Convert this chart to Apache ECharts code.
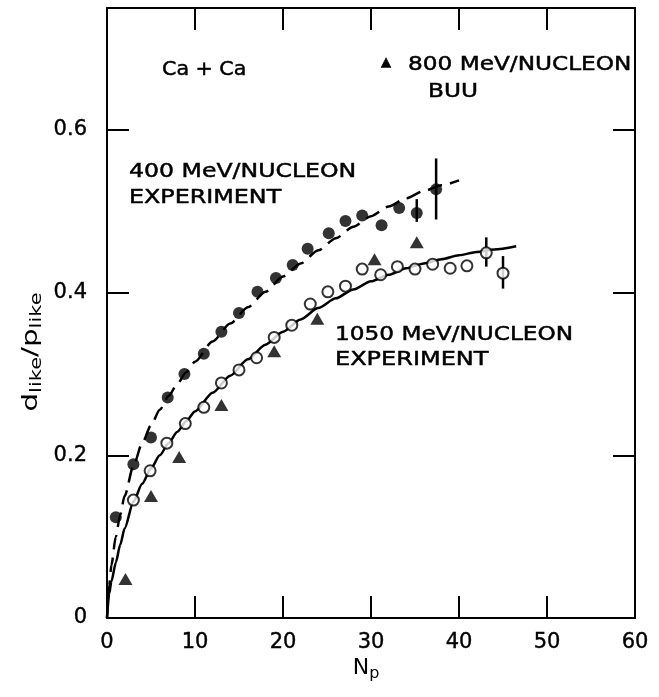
<!DOCTYPE html>
<html>
<head>
<meta charset="utf-8">
<script src="https://cdn.jsdelivr.net/npm/echarts@6/dist/echarts.min.js"></script>
<style>
  html, body { margin: 0; padding: 0; background: #fff; }
  #chart { width: 659px; height: 697px; }
</style>
</head>
<body>
<div id="chart"></div>
<script>
// ---- data ----
// 400 MeV/nucleon experiment (filled circles)
const n400 = [1.0, 3.0, 5.0, 6.9, 8.8, 11.0, 13.0, 15.0, 17.1, 19.2, 21.1, 22.8, 25.2, 27.1, 29.0, 31.2, 33.2, 35.2, 37.4];
const v400 = [0.124, 0.189, 0.222, 0.271, 0.300, 0.325, 0.352, 0.375, 0.401, 0.418, 0.434, 0.454, 0.473, 0.488, 0.495, 0.483, 0.504, 0.498, 0.527];
// 1050 MeV/nucleon experiment (open circles)
const n1050 = [3.0, 4.9, 6.8, 8.9, 11.0, 13.0, 15.0, 17.0, 19.0, 21.0, 23.1, 25.1, 27.1, 29.0, 31.1, 33.0, 35.0, 37.0, 39.0, 40.9, 43.1, 45.0];
const v1050 = [0.145, 0.181, 0.215, 0.239, 0.259, 0.289, 0.305, 0.320, 0.345, 0.360, 0.386, 0.401, 0.408, 0.429, 0.422, 0.432, 0.429, 0.435, 0.430, 0.433, 0.449, 0.424];
// 800 MeV/nucleon BUU (triangles)
const n800 = [2.1, 5.0, 8.2, 13.0, 19.0, 23.9, 30.4, 35.2];
const v800 = [0.048, 0.150, 0.198, 0.262, 0.328, 0.368, 0.441, 0.462];
// error bars
const errN  = [35.2, 37.4, 43.1, 45.0];
const errLo = [0.487, 0.490, 0.432, 0.405];
const errHi = [0.515, 0.565, 0.468, 0.445];
// curves through the data
const dashN = [0, 0.25, 0.5, 1, 1.5, 2, 3, 4, 5, 6, 7, 8, 9, 10, 12, 14, 16, 18, 20, 22, 24, 26, 28, 30, 32, 34, 36, 38, 40];
const dashV = [0, 0.04, 0.065, 0.1, 0.127, 0.15, 0.187, 0.215, 0.237, 0.256, 0.273, 0.288, 0.302, 0.315, 0.34, 0.362, 0.382, 0.401, 0.42, 0.436, 0.452, 0.467, 0.481, 0.494, 0.506, 0.516, 0.525, 0.532, 0.538];
const solidN = [0, 0.25, 0.5, 1, 1.5, 2, 3, 4, 5, 6, 7, 8, 9, 10, 12, 14, 16, 18, 20, 22, 24, 26, 28, 30, 32, 34, 36, 38, 40, 42, 44, 46.5];
const solidV = [0, 0.03, 0.045, 0.068, 0.09, 0.11, 0.143, 0.165, 0.184, 0.2, 0.215, 0.229, 0.242, 0.254, 0.277, 0.298, 0.318, 0.336, 0.352, 0.367, 0.381, 0.393, 0.404, 0.414, 0.422, 0.43, 0.436, 0.441, 0.446, 0.45, 0.453, 0.457];
// axes
const xTicks = [0, 10, 20, 30, 40, 50, 60];
const yTicks = [0, 0.2, 0.4, 0.6];

const zip = (a, b) => a.map((x, i) => [x, b[i]]);
const INK = '#000';
const FONT = '"DejaVu Sans", sans-serif';

const chart = echarts.init(document.getElementById('chart'), null, { renderer: 'canvas' });

const tickStyle = { show: true, inside: true, length: 22, lineStyle: { color: INK, width: 2 } };
const lineStyle = { show: true, onZero: false, lineStyle: { color: INK, width: 2 } };

function txt(text, x, y, size, sx) {
  return {
    type: 'text', x: x, y: y, scaleX: sx || 1,
    style: { text: text, font: size + 'px ' + FONT, fill: INK, stroke: INK, lineWidth: 0.5,
      textAlign: 'left', textVerticalAlign: 'middle' }
  };
}

chart.setOption({
  animation: false,
  backgroundColor: '#fff',
  grid: { left: 107, right: 24, top: 8, bottom: 79, containLabel: false },
  xAxis: [
    { type: 'value', position: 'bottom', min: 0, max: 60, interval: 10,
      axisLine: lineStyle, axisTick: tickStyle, splitLine: { show: false },
      axisLabel: { color: INK, fontSize: 21, fontFamily: FONT, margin: 14,
        textBorderColor: INK, textBorderWidth: 0.4,
        formatter: v => xTicks.indexOf(v) >= 0 ? String(v) : '' } },
    { type: 'value', position: 'top', min: 0, max: 60, interval: 10,
      axisLine: lineStyle, axisTick: tickStyle, splitLine: { show: false }, axisLabel: { show: false } }
  ],
  yAxis: [
    { type: 'value', position: 'left', min: 0, max: 0.75, interval: 0.2,
      axisLine: lineStyle, axisTick: tickStyle, splitLine: { show: false },
      axisLabel: { color: INK, fontSize: 21, fontFamily: FONT, margin: 20, showMaxLabel: false,
        textBorderColor: INK, textBorderWidth: 0.4,
        formatter: v => { const r = Math.round(v * 10) / 10; return yTicks.indexOf(r) >= 0 && Math.abs(r - v) < 1e-6 ? (r === 0 ? '0' : r.toFixed(1)) : ''; } } },
    { type: 'value', position: 'right', min: 0, max: 0.75, interval: 0.2,
      axisLine: lineStyle, axisTick: tickStyle, splitLine: { show: false }, axisLabel: { show: false } }
  ],
  series: [
    { type: 'line', data: zip(dashN, dashV), smooth: 0.25, smoothMonotone: 'x', symbol: 'none', z: 1,
      lineStyle: { color: INK, width: 2.5, type: [15, 8] } },
    { type: 'line', data: zip(solidN, solidV), smooth: 0.25, smoothMonotone: 'x', symbol: 'none', z: 1,
      lineStyle: { color: INK, width: 2.5 } },
    { type: 'custom', z: 2, data: errN.map((n, i) => [n, errLo[i], errHi[i]]),
      renderItem: (params, api) => {
        const p1 = api.coord([api.value(0), api.value(1)]);
        const p2 = api.coord([api.value(0), api.value(2)]);
        return { type: 'line', shape: { x1: p1[0], y1: p1[1], x2: p2[0], y2: p2[1] },
          style: { stroke: INK, lineWidth: 2.5 } };
      } },
    { type: 'scatter', z: 3, data: zip(n400, v400), symbol: 'circle', symbolSize: 12,
      itemStyle: { color: INK } },
    { type: 'scatter', z: 3, data: zip(n1050, v1050), symbol: 'circle', symbolSize: 11,
      itemStyle: { color: '#fff', borderColor: INK, borderWidth: 2 } },
    { type: 'scatter', z: 3, data: zip(n800, v800), symbol: 'triangle', symbolSize: [14, 12],
      itemStyle: { color: INK } }
  ],
  graphic: [
    txt('Ca + Ca', 162, 70, 20, 1.03),
    txt('\u25B2', 381, 63, 13, 1),
    txt('800 MeV/NUCLEON', 408, 65, 20, 1.16),
    txt('BUU', 428, 92, 20, 1.16),
    txt('400 MeV/NUCLEON', 129, 172, 20, 1.18),
    txt('EXPERIMENT', 129, 198, 20, 1.19),
    txt('1050 MeV/NUCLEON', 335, 335, 20, 1.16),
    txt('EXPERIMENT', 335, 360, 20, 1.2),
    { type: 'text', x: 32, y: 352, rotation: Math.PI / 2, scaleX: 1.4,
      style: { text: '{a|d}{s|like}{a|/}{a|p}{s|like}', textAlign: 'center', textVerticalAlign: 'middle', fill: INK,
        rich: { a: { font: '21px ' + FONT, fill: INK }, s: { font: '15px ' + FONT, fill: INK, padding: [10, 0, 0, 0] } } } },
    { type: 'text', x: 366, y: 668,
      style: { text: '{a|N}{s|p}', textAlign: 'center', textVerticalAlign: 'middle', fill: INK,
        rich: { a: { font: '22px ' + FONT, fill: INK }, s: { font: '16px ' + FONT, fill: INK, padding: [12, 0, 0, 0] } } } }
  ]
});
</script>
</body>
</html>
